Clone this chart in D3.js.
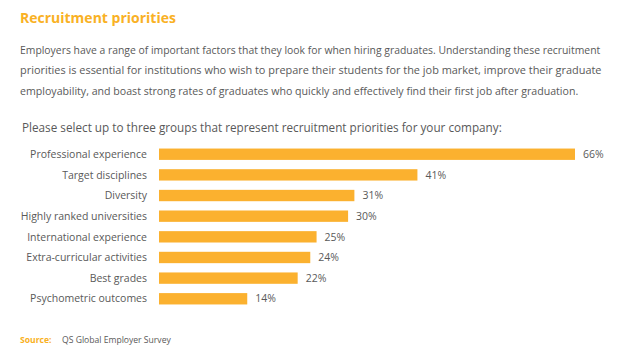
<!DOCTYPE html>
<html><head><meta charset="utf-8">
<script src="https://cdn.jsdelivr.net/npm/d3@7"></script>
<style>body{margin:0;background:#fff;} svg{display:block;}</style>
</head><body>
<svg id="c" width="628" height="358"></svg>
<script>
const title = "Recruitment priorities";
const paragraph = [
  "Employers have a range of important factors that they look for when hiring graduates. Understanding these recruitment",
  "priorities is essential for institutions who wish to prepare their students for the job market, improve their graduate",
  "employability, and boast strong rates of graduates who quickly and effectively find their first job after graduation."
];
const question = "Please select up to three groups that represent recruitment priorities for your company:";
const categories = ["Professional experience","Target disciplines","Diversity","Highly ranked universities","International experience","Extra-curricular activities","Best grades","Psychometric outcomes"];
const values = [66,41,31,30,25,24,22,14];
const sourceLabel = "Source:";
const sourceText = "QS Global Employer Survey";

const orange = "#FBB12F", titleC = "#F9B124", textC = "#595959";
const svg = d3.select("#c");
const font = "'Open Sans', sans-serif";

// scale a text's font size so its width matches a target width
function fit(sel, base, target){
  sel.attr("font-size", base);
  const w = sel.node().getComputedTextLength();
  sel.attr("font-size", base * target / w);
}

const t = svg.append("text").attr("x",20).attr("y",23).attr("font-family",font).attr("font-weight",700)
  .attr("fill",titleC).text(title);
fit(t, 16, 156);

const pw = [581, 582, 559];
svg.append("g").selectAll("text").data(paragraph).join("text")
  .attr("x",20).attr("y",(d,i)=>53.5+i*20.7).attr("font-family",font)
  .attr("fill",textC).text(d=>d)
  .each(function(d,i){ fit(d3.select(this), 12, pw[i]); });

const q = svg.append("text").attr("x",22).attr("y",132).attr("font-family",font)
  .attr("fill",textC).text(question);
fit(q, 13, 480);

const x = d3.scaleLinear().domain([0,66]).range([159,575]);
const y = d3.scaleBand().domain(categories).range([144,309]).paddingInner(0.45).paddingOuter(0.22);

const g = svg.append("g");
g.selectAll("rect").data(values).join("rect")
  .attr("x",x(0)).attr("y",(d,i)=>y(categories[i])).attr("width",d=>x(d)-x(0)).attr("height",y.bandwidth())
  .attr("fill",orange);
g.selectAll("text.val").data(values).join("text").attr("class","val")
  .attr("x",d=>x(d)+8).attr("y",(d,i)=>y(categories[i])+y.bandwidth()/2).attr("dy","0.35em")
  .attr("font-family",font).attr("font-size",10.5).attr("fill",textC).text(d=>d+"%");

const yAxis = d3.axisLeft(y).tickSize(0).tickPadding(12);
const ax = svg.append("g").attr("transform",`translate(${x(0)},0)`).call(yAxis);
ax.select(".domain").remove();
const lab = ax.selectAll("text").attr("font-family",font).attr("fill",textC).attr("dy","0.35em");
// reference: "Professional experience" spans ~117px
lab.attr("font-size",11);
const w0 = lab.filter(d=>d===categories[0]).node().getComputedTextLength();
lab.attr("font-size", 11*117/w0);

const s = svg.append("text").attr("x",20).attr("y",343).attr("font-family",font).attr("font-size",8.6);
s.append("tspan").attr("font-weight",700).attr("fill",titleC).text(sourceLabel);
s.append("tspan").attr("x",62).attr("fill",textC).text(sourceText);
</script>
</body></html>
